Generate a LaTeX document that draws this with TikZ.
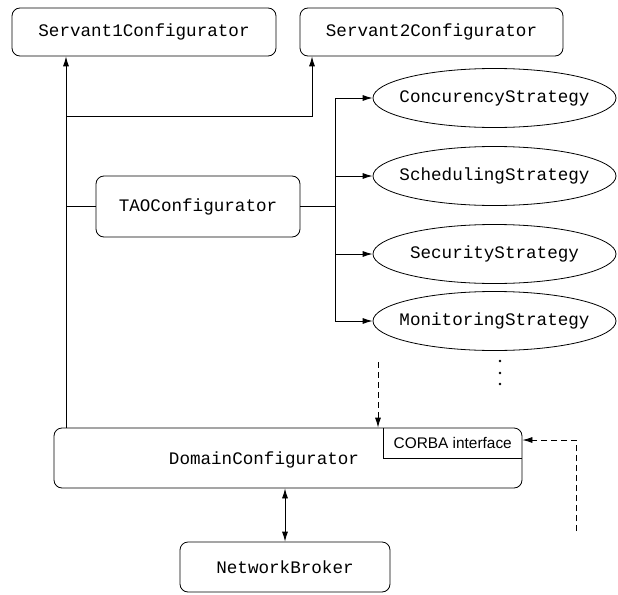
\documentclass[tikz,border=0pt]{standalone}
\usepackage{fontspec}
\usepackage{tikz}
\usetikzlibrary{shapes,arrows.meta}
\newfontfamily\boxfont{Liberation Mono}
\newfontfamily\corbafont{Liberation Sans}

\begin{document}
\begin{tikzpicture}[x=1pt,y=-1pt]
      \tikzstyle{every node}=[inner sep=0pt,font=\boxfont\fontsize{17.6}{20}\selectfont]
      \tikzstyle{config}=[rectangle,rounded corners=8pt,draw,line width=0.8pt]
      \tikzstyle{strategy}=[ellipse,draw,line width=0.8pt,inner xsep=-14pt,minimum width=243pt,minimum height=59pt]
      \tikzstyle{link}=[line width=0.8pt,-{Latex[length=10pt,width=6pt]}]
      \tikzstyle{remote}=[link,dash pattern=on 6pt off 4pt]
      \useasboundingbox (0,0) rectangle (618,594);
      \node[config,minimum width=264pt,minimum height=48pt] (s1) at (144,32) {Servant1Configurator};
      \node[config,minimum width=263pt,minimum height=48pt] (s2) at (431.5,32) {Servant2Configurator};
      \node[config,minimum width=204pt,minimum height=61pt] (tao) at (198,206.5) {TAOConfigurator};
      \node[strategy] (conc) at (494.5,98) {ConcurencyStrategy};
      \node[strategy] (sched) at (494.5,176) {SchedulingStrategy};
      \node[strategy] (sec) at (494.5,254) {SecurityStrategy};
      \node[strategy] (mon) at (494.5,321) {MonitoringStrategy};
      \node[config,minimum width=468pt,minimum height=60pt] (dom) at (288,458) {};
      \node (domtext) at (264,460) {DomainConfigurator};
      \node[minimum width=138.5pt,minimum height=30pt,font=\corbafont\fontsize{15.4}{18}\selectfont] (corba) at (452.75,443) {CORBA interface};
      \node[config,minimum width=210pt,minimum height=50pt] (nb) at (285,567) {NetworkBroker};
      % trunk and bus
      \coordinate (trunk) at (66,0);
      \coordinate (bus) at (335,0);
      \coordinate (s2in) at (312,116);
      \coordinate (ext1) at (378,362);
      \coordinate (ext2) at (576,531);
      \draw[line width=0.8pt] (corba.north west) -- (corba.south west) -- (corba.south east);
      \draw[link] (trunk |- dom.north) -- (trunk |- s1.south);
      \draw[link] (trunk |- s2in) -- (s2in) -- (s2in |- s2.south);
      \draw[line width=0.8pt] (trunk |- tao.west) -- (tao.west);
      \draw[line width=0.8pt] (tao.east) -- (bus |- tao.east);
      \draw[line width=0.8pt] (bus |- conc.west) -- (bus |- mon.west);
      \foreach \s in {conc,sched,sec,mon}
        \draw[link] (bus |- \s.west) -- (\s.west);
      \foreach \y in {361,373,384}
        \fill (500,\y) circle (1.4pt);
      \draw[remote] (ext1) -- (ext1 |- dom.north);
      \draw[remote] (ext2) |- (dom.east |- 0,440);
      \draw[link,{Latex[length=10pt,width=6pt]}-{Latex[length=10pt,width=6pt]}] (nb.north) -- (nb.north |- dom.south);
\end{tikzpicture}
\end{document}
